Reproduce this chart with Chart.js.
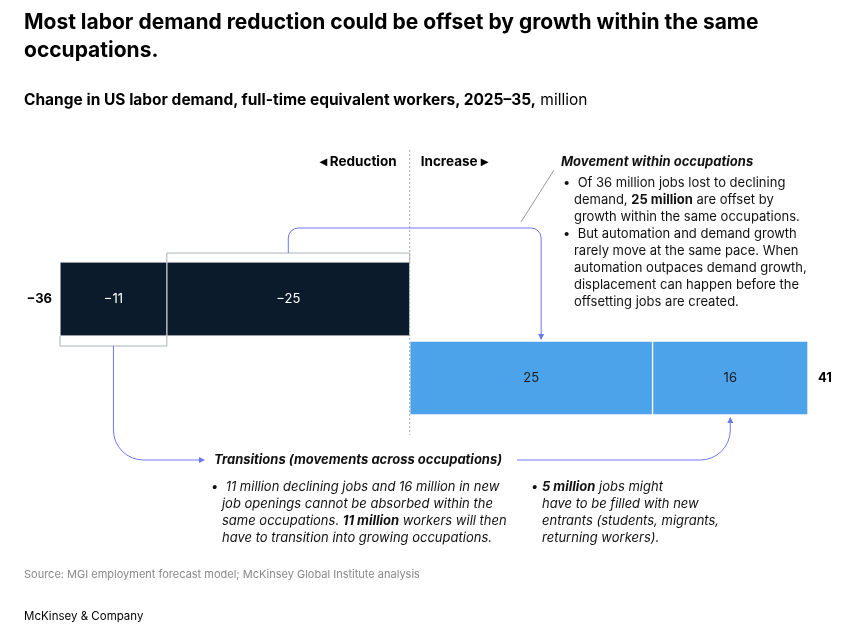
<!DOCTYPE html>
<html><head><meta charset="utf-8">
<script src="https://cdn.jsdelivr.net/npm/chart.js@4"></script>
<style>
body{margin:0;background:#fff;font-family:Inter,"Liberation Sans",sans-serif;color:#000}
#wrap{position:relative;width:868px;height:634px}
canvas{position:absolute;left:0;top:0}
.t{position:absolute;white-space:nowrap}
</style></head><body>
<div id="wrap">
<canvas id="c" width="868" height="634"></canvas>
<div class="t" style="left:24px;top:8px;font-size:21px;font-weight:700;line-height:28px;white-space:normal;width:800px">Most labor demand reduction could be offset by growth within the same occupations.</div>
<div class="t" style="left:24px;top:90px;font-size:15.5px"><b>Change in US labor demand, full-time equivalent workers, 2025–35,</b> million</div>
<div class="t" style="left:24px;top:567px;font-size:11px;color:#888">Source: MGI employment forecast model; McKinsey Global Institute analysis</div>
<div class="t" style="left:24px;top:609px;font-size:11.5px">McKinsey &amp; Company</div>
</div>
<script>
const rows = ["Reduction", "Increase"];
const segLabels = ["−11", "−25", "25", "16"];
const segStart = [-36, -25, 0, 25];
const segEnd = [-25, 0, 25, 41];
const segRow = [0, 0, 1, 1];
const totals = ["−36", "41"];

const dark = "#0c1b2c", blue = "#4da3ea", arrow = "#6b78f0";

const datasets = segLabels.map((l, i) => ({
  label: l,
  data: rows.map((r, j) => j === segRow[i] ? [segStart[i], segEnd[i]] : null),
  backgroundColor: segRow[i] === 0 ? dark : blue,
  borderColor: segRow[i] === 0 ? "#c8ccd2" : "#ffffff",
  borderWidth: 1,
  borderSkipped: false,
  grouped: false,
  barThickness: 74
}));

function arrowHead(ctx, x, y, dir) {
  ctx.save(); ctx.fillStyle = arrow; ctx.beginPath();
  if (dir === "down") { ctx.moveTo(x - 3, y - 6); ctx.lineTo(x + 3, y - 6); ctx.lineTo(x, y); }
  else if (dir === "up") { ctx.moveTo(x - 3, y + 6); ctx.lineTo(x + 3, y + 6); ctx.lineTo(x, y); }
  else { ctx.moveTo(x - 6, y - 3); ctx.lineTo(x - 6, y + 3); ctx.lineTo(x, y); }
  ctx.fill(); ctx.restore();
}

function richLine(ctx, parts, x, y, italic) {
  parts.forEach(p => {
    ctx.font = (italic ? "italic " : "") + (p[1] ? "700 " : "400 ") + "13px Inter, 'Liberation Sans', sans-serif";
    ctx.fillText(p[0], x, y);
    x += ctx.measureText(p[0]).width;
  });
}

const annot = {
  id: "annot",
  afterDraw(chart) {
    const ctx = chart.ctx, xs = chart.scales.x, ys = chart.scales.y;
    const X = v => xs.getPixelForValue(v);
    const yTop = ys.getPixelForValue(0) - 37, yMid = ys.getPixelForValue(0) + 37;
    const y2Top = ys.getPixelForValue(1) - 37, y2Bot = ys.getPixelForValue(1) + 37;
    ctx.save();
    ctx.textBaseline = "middle"; ctx.textAlign = "center";
    ctx.font = "400 13px Inter, 'Liberation Sans', sans-serif";
    segLabels.forEach((l, i) => {
      ctx.fillStyle = segRow[i] === 0 ? "#fff" : "#1a1a1a";
      ctx.fillText(l, (X(segStart[i]) + X(segEnd[i])) / 2, ys.getPixelForValue(segRow[i]));
    });
    ctx.font = "700 13px Inter, 'Liberation Sans', sans-serif"; ctx.fillStyle = "#000";
    ctx.textAlign = "right"; ctx.fillText(totals[0], X(-36) - 8, ys.getPixelForValue(0));
    ctx.textAlign = "left"; ctx.fillText(totals[1], X(41) + 10, ys.getPixelForValue(1));
    // zero dashed line
    ctx.strokeStyle = "#aaa"; ctx.setLineDash([2, 2]); ctx.lineWidth = 1;
    ctx.beginPath(); ctx.moveTo(X(0), 150); ctx.lineTo(X(0), 435); ctx.stroke();
    ctx.setLineDash([]);
    ctx.font = "700 13.5px Inter, 'Liberation Sans', sans-serif";
    ctx.textAlign = "right"; ctx.fillText("◂ Reduction", X(0) - 13, 162);
    ctx.textAlign = "left"; ctx.fillText("Increase ▸", X(0) + 11, 162);
    // brackets
    ctx.strokeStyle = "#aab0b8";
    ctx.beginPath(); ctx.moveTo(X(-25), yTop); ctx.lineTo(X(-25), yTop - 9); ctx.lineTo(X(0), yTop - 9); ctx.lineTo(X(0), yTop); ctx.stroke();
    ctx.beginPath(); ctx.moveTo(X(-36), yMid); ctx.lineTo(X(-36), yMid + 10); ctx.lineTo(X(-25), yMid + 10); ctx.lineTo(X(-25), yMid); ctx.stroke();
    // within occupations arrow
    ctx.strokeStyle = arrow;
    const mA = (X(-25) + X(0)) / 2, tA = (X(0) + X(25)) / 2 + 10;
    ctx.beginPath(); ctx.moveTo(mA, yTop - 9); ctx.lineTo(mA, 238);
    ctx.arcTo(mA, 228, mA + 10, 228, 10); ctx.lineTo(tA - 10, 228);
    ctx.arcTo(tA, 228, tA, 238, 10); ctx.lineTo(tA, y2Top - 2); ctx.stroke();
    arrowHead(ctx, tA, y2Top - 1, "down");
    // across occupations arrow
    const mB = (X(-36) + X(-25)) / 2;
    ctx.beginPath(); ctx.moveTo(mB, yMid + 10); ctx.lineTo(mB, 430);
    ctx.arcTo(mB, 460, mB + 30, 460, 30); ctx.lineTo(200, 460); ctx.stroke();
    arrowHead(ctx, 205, 460, "right");
    const tB = X(33);
    ctx.beginPath(); ctx.moveTo(517, 460); ctx.lineTo(tB - 30, 460);
    ctx.arcTo(tB, 460, tB, 430, 30); ctx.lineTo(tB, y2Bot + 3); ctx.stroke();
    arrowHead(ctx, tB, y2Bot + 2, "up");
    // pointer
    ctx.strokeStyle = "#999";
    ctx.beginPath(); ctx.moveTo(521, 222); ctx.lineTo(554, 170); ctx.stroke();
    // texts
    ctx.fillStyle = "#111"; ctx.textAlign = "left";
    richLine(ctx, [["Movement within occupations", true]], 561, 162, true);
    const r = [
      [["•  Of 36 million jobs lost to declining"]],
      [["   demand, "], ["25 million", true], [" are offset by"]],
      [["   growth within the same occupations."]],
      [["•  But automation and demand growth"]],
      [["   rarely move at the same pace. When"]],
      [["   automation outpaces demand growth,"]],
      [["   displacement can happen before the"]],
      [["   offsetting jobs are created."]]
    ];
    r.forEach((p, i) => richLine(ctx, p, 563, 183 + i * 17, false));
    richLine(ctx, [["Transitions (movements across occupations)", true]], 214, 460, true);
    const l = [
      [["•  11 million declining jobs and 16 million in new"]],
      [["   job openings cannot be absorbed within the"]],
      [["   same occupations. "], ["11 million", true], [" workers will then"]],
      [["   have to transition into growing occupations."]]
    ];
    l.forEach((p, i) => richLine(ctx, p, 211, 487 + i * 17, true));
    const m = [
      [["• "], ["5 million", true], [" jobs might"]],
      [["   have to be filled with new"]],
      [["   entrants (students, migrants,"]],
      [["   returning workers)."]]
    ];
    m.forEach((p, i) => richLine(ctx, p, 531, 487 + i * 17, true));
    ctx.restore();
  }
};

new Chart(document.getElementById("c"), {
  type: "bar",
  data: { labels: rows, datasets: datasets },
  options: {
    indexAxis: "y",
    responsive: false,
    animation: false,
    layout: { padding: { left: 60, right: 60, top: 259.5, bottom: 216.5 } },
    scales: {
      x: { display: false, min: -36, max: 41 },
      y: { display: false }
    },
    plugins: { legend: { display: false }, tooltip: { enabled: false } }
  },
  plugins: [annot]
});
</script>
</body></html>
